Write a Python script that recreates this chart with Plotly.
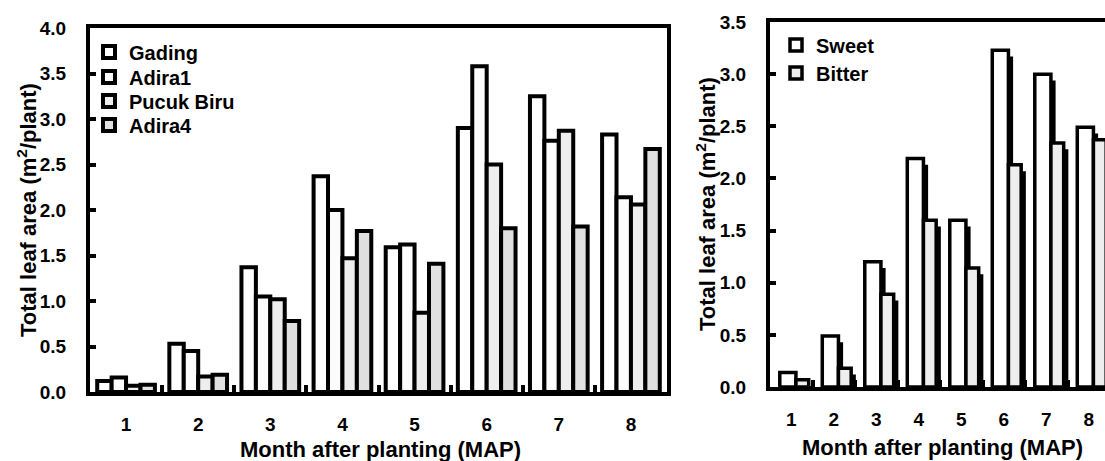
import plotly.graph_objects as go

months = [1, 2, 3, 4, 5, 6, 7, 8]
month_labels = ["1", "2", "3", "4", "5", "6", "7", "8"]

gading = [0.12, 0.53, 1.37, 2.37, 1.59, 2.90, 3.25, 2.83]
adira1 = [0.16, 0.45, 1.05, 2.00, 1.62, 3.58, 2.76, 2.14]
pucuk_biru = [0.07, 0.17, 1.02, 1.47, 0.87, 2.50, 2.87, 2.06]
adira4 = [0.08, 0.19, 0.78, 1.77, 1.41, 1.80, 1.82, 2.67]

sweet = [0.14, 0.49, 1.20, 2.19, 1.60, 3.23, 3.00, 2.49]
bitter = [0.07, 0.18, 0.89, 1.60, 1.14, 2.13, 2.34, 2.37]

left_ticks = [0.0, 0.5, 1.0, 1.5, 2.0, 2.5, 3.0, 3.5, 4.0]
right_ticks = [0.0, 0.5, 1.0, 1.5, 2.0, 2.5, 3.0, 3.5]
boundaries = [1.5, 2.5, 3.5, 4.5, 5.5, 6.5, 7.5]

FONT = "Liberation Sans, Arial, sans-serif"
W, H = 1105, 461

fig = go.Figure()

left_series = [
    ("Gading", gading, "#ffffff", "legend", 52),
    ("Adira1", adira1, "#fcfcfc", "legend3", 77),
    ("Pucuk Biru", pucuk_biru, "#eeeeee", "legend4", 101),
    ("Adira4", adira4, "#e0e0e0", "legend5", 125),
]
for name, vals, col, lg, _ in left_series:
    fig.add_trace(go.Bar(
        x=months, y=vals, name=name, xaxis="x", yaxis="y",
        marker=dict(color=col, line=dict(color="black", width=4)),
        legend=lg,
    ))

# right panel: bars with drop shadows
shadow_dx = 0.11
shadow_dy = -0.06
fig.add_trace(go.Bar(
    x=months, y=sweet, base=shadow_dy, offset=-0.27 + shadow_dx, width=0.38,
    marker=dict(color="black", line=dict(width=0)), showlegend=False,
    xaxis="x2", yaxis="y2", hoverinfo="skip"))
fig.add_trace(go.Bar(
    x=months, y=sweet, name="Sweet", offset=-0.27, width=0.38,
    marker=dict(color="#ffffff", line=dict(color="black", width=3.5)),
    xaxis="x2", yaxis="y2", legend="legend2"))
fig.add_trace(go.Bar(
    x=months, y=bitter, base=shadow_dy, offset=0.11 + shadow_dx, width=0.30,
    marker=dict(color="black", line=dict(width=0)), showlegend=False,
    xaxis="x2", yaxis="y2", hoverinfo="skip"))
fig.add_trace(go.Bar(
    x=months, y=bitter, name="Bitter", offset=0.11, width=0.30,
    marker=dict(color="#eeeeee", line=dict(color="black", width=3.5)),
    xaxis="x2", yaxis="y2", legend="legend6"))

tickfont = dict(family=FONT, size=19, color="black", weight="bold")

common_x = dict(
    tickmode="array", tickvals=months, ticktext=month_labels,
    ticks="", showline=True, linecolor="black", linewidth=4,
    showgrid=False, zeroline=False, tickfont=tickfont, ticklabelstandoff=12,
    automargin=False,
    minor=dict(tickvals=boundaries, ticks="inside", ticklen=7, tickwidth=4,
               tickcolor="black", showgrid=False),
)
layout = dict(
    width=W, height=H,
    margin=dict(l=0, r=0, t=0, b=0, pad=0, autoexpand=False),
    paper_bgcolor="white", plot_bgcolor="white",
    barmode="group", bargap=0.2, bargroupgap=0.0,
    xaxis=dict(domain=[90 / W, 667 / W], range=[0.5, 8.5], mirror=True,
               anchor="y", **common_x),
    yaxis=dict(domain=[1 - 392 / H, 1 - 28 / H], range=[0, 4.0],
               tickmode="array", tickvals=left_ticks,
               ticktext=[f"{v:.1f}" for v in left_ticks],
               ticks="inside", ticklen=6, tickwidth=4, tickcolor="black",
               showline=True, linecolor="black", linewidth=4, mirror=True,
               showgrid=False, zeroline=False, tickfont=tickfont,
               ticklabelstandoff=16, anchor="x", automargin=False),
    xaxis2=dict(domain=[770 / W, 1.0], range=[0.5, 0.5 + (W - 770) / 42.5],
                mirror=True, anchor="y2", **common_x),
    yaxis2=dict(domain=[1 - 387 / H, 1 - 22 / H], range=[0, 3.5],
                tickmode="array", tickvals=right_ticks,
                ticktext=[f"{v:.1f}" for v in right_ticks],
                ticks="inside", ticklen=6, tickwidth=4, tickcolor="black",
                showline=True, linecolor="black", linewidth=4, mirror=False,
                showgrid=False, zeroline=False, tickfont=tickfont,
                ticklabelstandoff=16, anchor="x2", automargin=False),
)

legfont = dict(family=FONT, size=20, color="black", weight="bold")
for name, vals, col, lg, ypix in left_series:
    layout[lg] = dict(x=89 / W, y=1 - ypix / H, xanchor="left", yanchor="middle",
                      bgcolor="rgba(0,0,0,0)", borderwidth=0, font=legfont)
for lg, ypix in [("legend2", 45), ("legend6", 73)]:
    layout[lg] = dict(x=776 / W, y=1 - ypix / H, xanchor="left", yanchor="middle",
                      bgcolor="rgba(0,0,0,0)", borderwidth=0, font=legfont)
fig.update_layout(**layout)

title_font = dict(family=FONT, size=22, color="black", weight="bold")
ytitle = "Total leaf area (m<sup>2</sup>/plant)"
xtitle = "Month after planting (MAP)"
fig.add_annotation(text=ytitle, xref="paper", yref="paper", x=27 / W, y=1 - 210 / H,
                   textangle=-90, showarrow=False, font=title_font,
                   xanchor="center", yanchor="middle")
fig.add_annotation(text=ytitle, xref="paper", yref="paper", x=706 / W, y=1 - 204 / H,
                   textangle=-90, showarrow=False, font=title_font,
                   xanchor="center", yanchor="middle")
fig.add_annotation(text=xtitle, xref="paper", yref="paper", x=380 / W, y=1 - 449 / H,
                   showarrow=False, font=title_font, xanchor="center", yanchor="middle")
fig.add_annotation(text=xtitle, xref="paper", yref="paper", x=942 / W, y=1 - 447 / H,
                   showarrow=False, font=title_font, xanchor="center", yanchor="middle")

fig.write_html("out.html")
